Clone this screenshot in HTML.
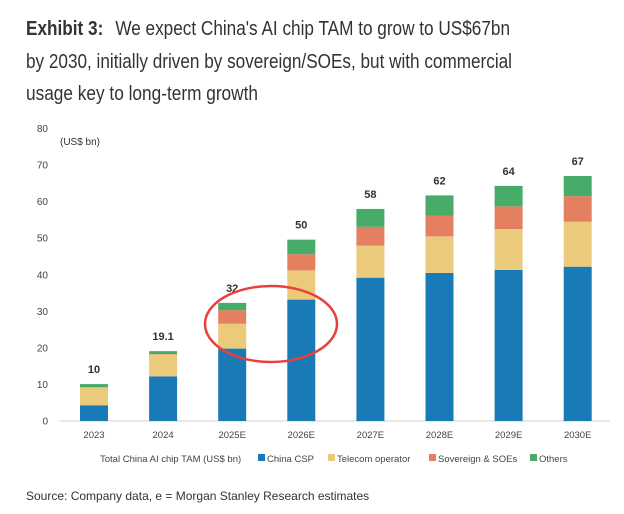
<!DOCTYPE html>
<html><head><meta charset="utf-8"><style>
body{margin:0;background:#fff;}
svg{display:block;font-family:"Liberation Sans",sans-serif;}
</style></head><body>
<svg width="624" height="514" viewBox="0 0 624 514">
<g fill="#333" font-size="20">
<text x="26" y="35" textLength="484" lengthAdjust="spacingAndGlyphs"><tspan font-weight="bold">Exhibit 3:</tspan><tspan dx="14">We expect China's AI chip TAM to grow to US$67bn</tspan></text>
<text x="26" y="68" textLength="486" lengthAdjust="spacingAndGlyphs">by 2030, initially driven by sovereign/SOEs, but with commercial</text>
<text x="26" y="100" textLength="232" lengthAdjust="spacingAndGlyphs">usage key to long-term growth</text>
</g>
<g id="yaxis"></g>
<text x="60" y="145" font-size="10" fill="#333">(US$ bn)</text>
<line x1="60" y1="421" x2="610" y2="421" stroke="#d0d0d0" stroke-width="1"/>
<g id="bars"></g>
<g id="xaxis"></g>
<ellipse cx="271" cy="324" rx="66" ry="38" fill="none" stroke="#e8403c" stroke-width="2.5"/>
<g font-size="9.5" fill="#444">
<text x="100" y="462">Total China AI chip TAM (US$ bn)</text>
<g><rect x="258" y="454" width="7" height="7" fill="#1a7ab5"/><text x="267" y="462">China CSP</text></g>
<g><rect x="328" y="454" width="7" height="7" fill="#ecca7c"/><text x="337" y="462">Telecom operator</text></g>
<g><rect x="429" y="454" width="7" height="7" fill="#e47f5f"/><text x="438" y="462">Sovereign &amp; SOEs</text></g>
<g><rect x="530" y="454" width="7" height="7" fill="#47ab6a"/><text x="539" y="462">Others</text></g>
</g>
<text x="26" y="500" font-size="12" fill="#333">Source: Company data, e = Morgan Stanley Research estimates</text>
</svg>
<script>
const categories=["2023","2024","2025E","2026E","2027E","2028E","2029E","2030E"];
const chinaCSP=[4.3,12.2,19.8,33.2,39.2,40.5,41.3,42.2];
const telecom=[4.9,6.0,6.8,8.0,8.8,10.0,11.2,12.3];
const sovereign=[0.1,0.1,3.7,4.4,5.1,5.7,6.2,7.0];
const others=[0.8,0.8,2.0,4.0,4.9,5.5,5.6,5.5];
const totalLabels=["10","19.1","32","50","58","62","64","67"];
const yTicks=[0,10,20,30,40,50,60,70,80];
const NS="http://www.w3.org/2000/svg";
function y(v){return 421-v*(421-128.5)/80;}
function xc(i){return 94+i*69.1;}
const bw=28;
const series=[[chinaCSP,"#1a7ab5","china-csp"],[telecom,"#ecca7c","telecom"],[sovereign,"#e47f5f","sovereign"],[others,"#47ab6a","others"]];
const ya=document.getElementById('yaxis');
yTicks.forEach(t=>{const e=document.createElementNS(NS,'text');


e.setAttribute('x',48);e.setAttribute('y',y(t)+3.5);e.setAttribute('text-anchor','end');e.setAttribute('font-size','10');e.setAttribute('fill','#444');e.textContent=t;ya.appendChild(e);});
const bars=document.getElementById('bars'),xa=document.getElementById('xaxis');
categories.forEach((c,i)=>{let base=0;
series.forEach(([arr,col,nm])=>{const v=arr[i];const r=document.createElementNS(NS,'rect');


r.setAttribute('x',xc(i)-bw/2);r.setAttribute('width',bw);r.setAttribute('y',y(base+v));r.setAttribute('height',y(base)-y(base+v));r.setAttribute('fill',col);bars.appendChild(r);base+=v;});
const l=document.createElementNS(NS,'text');


l.setAttribute('x',xc(i));l.setAttribute('y',y(base)-11);l.setAttribute('text-anchor','middle');l.setAttribute('font-size','11');l.setAttribute('font-weight','bold');l.setAttribute('fill','#333');l.textContent=totalLabels[i];bars.appendChild(l);
const t=document.createElementNS(NS,'text');


t.setAttribute('x',xc(i));t.setAttribute('y',438);t.setAttribute('text-anchor','middle');t.setAttribute('font-size','9.5');t.setAttribute('fill','#444');t.textContent=c;xa.appendChild(t);});
</script>
</body></html>
